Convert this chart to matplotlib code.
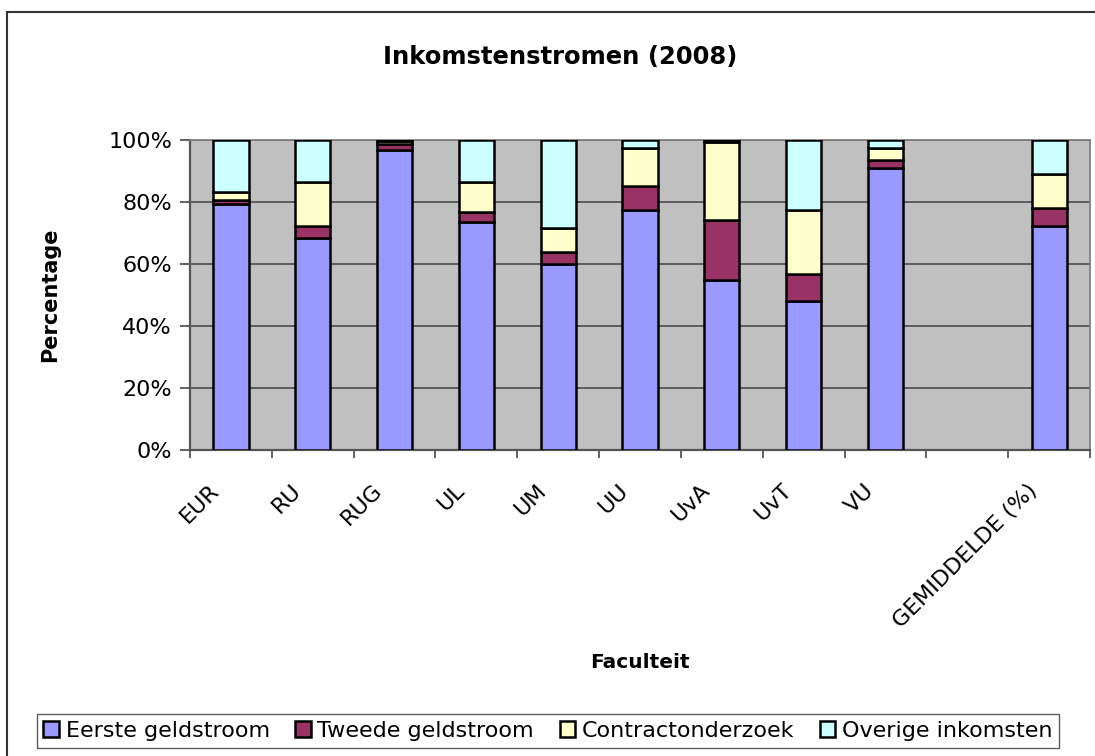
import matplotlib
matplotlib.use("Agg")
import matplotlib.pyplot as plt
import numpy as np
from matplotlib.patches import Rectangle
from matplotlib.transforms import ScaledTranslation

categories = ["EUR", "RU", "RUG", "UL", "UM", "UU", "UvA", "UvT", "VU", "", "GEMIDDELDE (%)"]
eerste = [79.4, 68.5, 96.8, 73.4, 60.0, 77.4, 54.8, 48.1, 91.0, 0, 72.3]
tweede = [1.2, 3.8, 1.8, 3.5, 3.9, 7.8, 19.4, 8.7, 2.4, 0, 5.7]
contract = [2.6, 14.2, 1.1, 9.6, 7.7, 12.2, 25.2, 20.6, 4.0, 0, 11.0]
overige = [16.8, 13.5, 0.3, 13.5, 28.4, 2.6, 0.6, 22.6, 2.6, 0, 11.0]
series_names = ["Eerste geldstroom", "Tweede geldstroom", "Contractonderzoek", "Overige inkomsten"]
colors = ["#9999FF", "#993366", "#FFFFCC", "#CCFFFF"]
yticks = [0, 20, 40, 60, 80, 100]

plt.rcParams['font.family'] = ['DejaVu Sans']

W, H = 1095, 756
fig = plt.figure(figsize=(W/100, H/100), dpi=100)
ax = fig.add_axes([190/W, (H-450)/H, (1090-190)/W, 310/H])
ax.set_facecolor("#C0C0C0")

x = np.arange(len(categories))
bottom = np.zeros(len(categories))
data = [eerste, tweede, contract, overige]
handles = []
for vals, name, c in zip(data, series_names, colors):
    vals = np.array(vals)
    mask = vals > 0
    b = ax.bar(x[mask], vals[mask], bottom=bottom[mask], width=0.43, color=c,
               edgecolor="black", linewidth=1.8, label=name, zorder=3)
    handles.append(b)
    bottom += vals

ax.set_xlim(-0.5, len(categories) - 0.5)
ax.set_ylim(0, 100)
ax.set_yticks(yticks)
ax.set_yticklabels([f"{v}%" for v in yticks], fontsize=16)
ax.yaxis.grid(True, color="#555555", linewidth=1.3, zorder=0)
ax.set_axisbelow(True)
ax.set_xticks(x)
ax.set_xticklabels(categories, rotation=45, ha="right", rotation_mode="anchor", fontsize=16)
ax.tick_params(axis="x", length=0, pad=22)
shift = ScaledTranslation(-0.22, 0, fig.dpi_scale_trans)
for lbl in ax.get_xticklabels():
    lbl.set_transform(lbl.get_transform() + shift)
ax.set_xticks(np.arange(-0.5, len(categories), 1), minor=True)
ax.tick_params(axis="x", which="minor", length=6, width=1.3, color="#555555")
ax.tick_params(axis="y", length=7, width=1.3, color="#555555", pad=6)
for s in ["top", "right"]:
    ax.spines[s].set_color("#808080")
    ax.spines[s].set_linewidth(1.3)
for s in ["left", "bottom"]:
    ax.spines[s].set_color("#555555")
    ax.spines[s].set_linewidth(1.6)

fig.text(560/W, 1 - 57/H, "Inkomstenstromen (2008)", ha="center", va="center",
         fontsize=17.5, fontweight="bold")
fig.text(50/W, 1 - 295/H, "Percentage", ha="center", va="center", rotation=90,
         fontsize=15, fontweight="bold")
fig.text(640/W, 1 - 663/H, "Faculteit", ha="center", va="center",
         fontsize=14.5, fontweight="bold")

leg = fig.legend(handles=handles, labels=series_names, loc="center",
                 bbox_to_anchor=(548/W, 1 - 731/H), ncol=4, fontsize=16,
                 frameon=True, fancybox=False, edgecolor="#333333", handlelength=0.7,
                 handleheight=0.7, handletextpad=0.3, columnspacing=1.15,
                 borderpad=0.3, borderaxespad=0)
leg.get_frame().set_linewidth(1.0)

fig.patches.append(Rectangle((7/W, -0.01), 1.1, 1 - 12/H + 0.01, transform=fig.transFigure,
                             fill=False, edgecolor="#333333", linewidth=1.5))

fig.savefig("out.png", dpi=100)
